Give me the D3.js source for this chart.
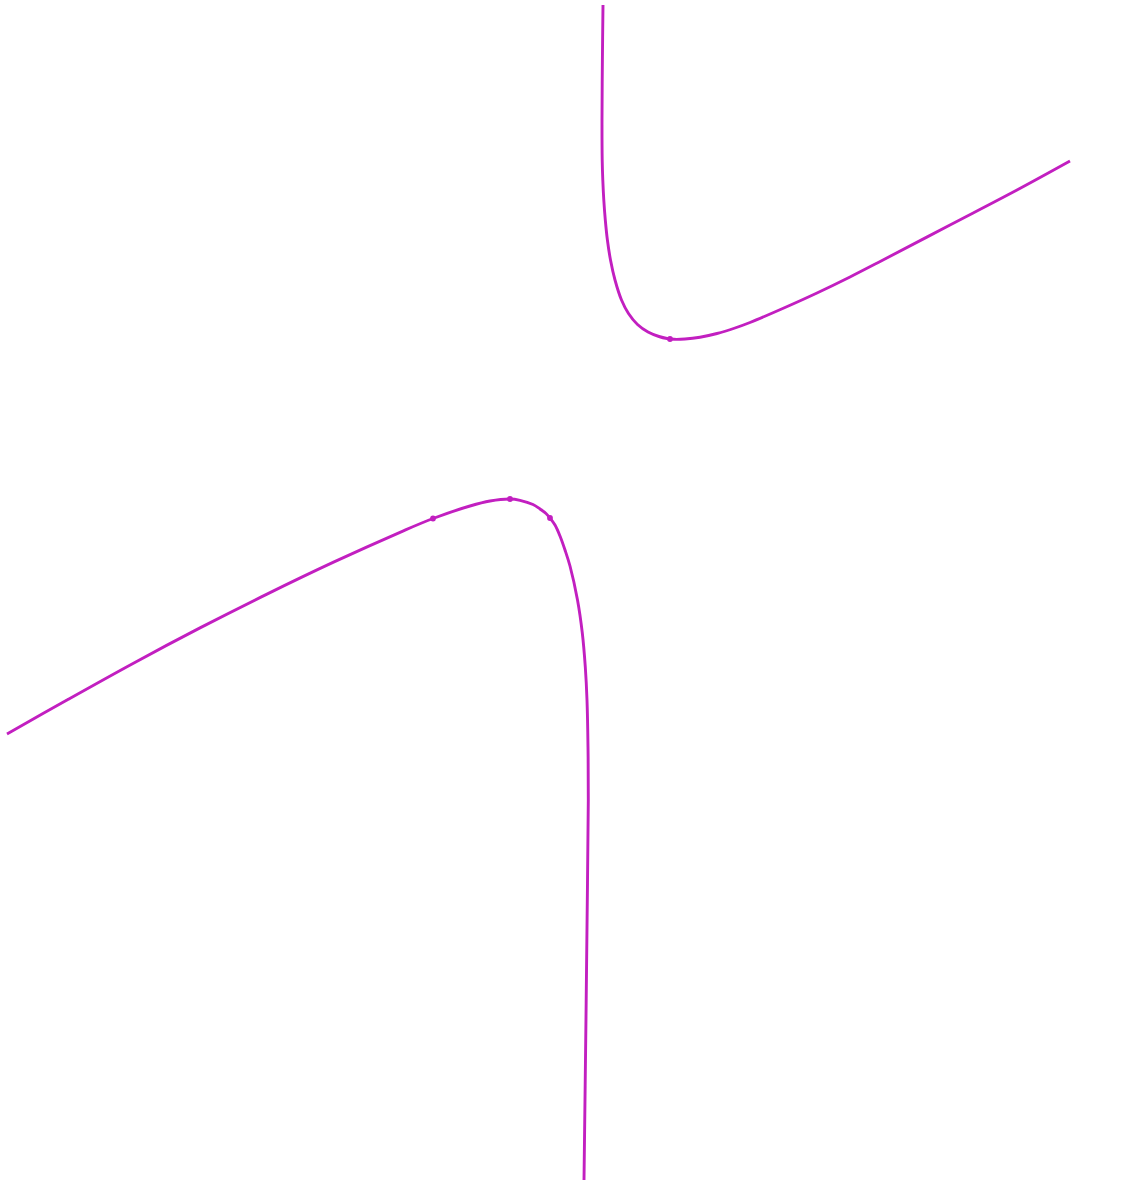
<!DOCTYPE html>
<html><head><meta charset="utf-8">
<script src="https://cdn.jsdelivr.net/npm/d3@7"></script>
<style>html,body{margin:0;padding:0;background:#fff;}</style>
</head><body>
<svg id="chart" width="1142" height="1192"></svg>
<script>
// Upper branch [x, y]
const upperX = [0.23,0.224,0.22,0.222,0.228,0.238,0.253,0.274,0.305,0.35,0.415,0.485,0.575,0.68,0.79,0.87,0.94,1.05,1.20,1.37,1.55,1.70,2.05,2.37,2.70,3.03,3.70,4.37,4.90];
const upperY = [5.95,5.40,4.80,4.40,4.20,4.00,3.80,3.60,3.40,3.20,3.00,2.865,2.755,2.68,2.635,2.615,2.607,2.61,2.628,2.665,2.72,2.775,2.925,3.07,3.23,3.40,3.75,4.10,4.39];
// Lower branch
const lowerX = [-5.73,-5.13,-4.47,-3.80,-3.13,-2.47,-1.80,-1.47,-1.10,-0.90,-0.70,-0.60,-0.47,-0.40,-0.34,-0.30,-0.25,-0.20,-0.15,-0.10,-0.025,0.023,0.053,0.07,0.08,0.083,0.075,0.06,0.04];
const lowerY = [-1.34,-1.00,-0.634,-0.279,0.059,0.376,0.677,0.815,0.94,0.99,1.01,0.997,0.955,0.91,0.865,0.82,0.75,0.64,0.50,0.34,0.00,-0.33,-0.67,-1.00,-1.47,-2.00,-2.83,-4.17,-5.80];
// Marked points
const dotX = [0.90,-1.47,-0.70,-0.30];
const dotY = [2.61,0.815,1.01,0.82];

const svg = d3.select("#chart");
const x = d3.scaleLinear().domain([-5.8, 5.62]).range([0, 1142]);
const y = d3.scaleLinear().domain([6, -5.92]).range([0, 1192]);
const color = "#c21fc0";

const line = d3.line().x(d => x(d[0])).y(d => y(d[1])).curve(d3.curveCatmullRom.alpha(0.5));
const upper = upperX.map((v,i)=>[v, upperY[i]]);
const lower = lowerX.map((v,i)=>[v, lowerY[i]]);

svg.selectAll("path.branch").data([upper, lower]).enter().append("path")
  .attr("class","branch")
  .attr("d", line)
  .attr("fill","none")
  .attr("stroke", color)
  .attr("stroke-width", 2.9);

svg.selectAll("circle.dot").data(dotX.map((v,i)=>[v, dotY[i]])).enter().append("circle")
  .attr("class","dot")
  .attr("cx", d => x(d[0]))
  .attr("cy", d => y(d[1]))
  .attr("r", 2.9)
  .attr("fill", color);
</script>
</body></html>
